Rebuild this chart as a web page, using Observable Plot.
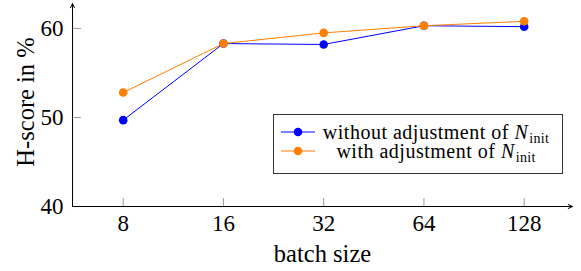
<!DOCTYPE html>
<html>
<head>
<meta charset="utf-8">
<script src="https://cdn.jsdelivr.net/npm/d3@7"></script>
<script src="https://cdn.jsdelivr.net/npm/@observablehq/plot@0.6"></script>
<style>
  html, body { margin: 0; padding: 0; background: #fff; }
  #wrap { position: relative; width: 581px; height: 271px; font-family: "Liberation Serif", "Times New Roman", serif; }
  #legend {
    position: absolute; left: 273px; top: 114px; width: 290px; height: 60px;
    border: 1px solid #333; background: #fff; box-sizing: border-box;
    font-size: 20px; color: #000;
  }
  .row { position: absolute; left: 0; right: 0; height: 18px; }
  .sample { position: absolute; left: 7px; top: 0; width: 34px; height: 18px; }
  .txt { position: absolute; left: 40px; right: 4px; top: 0; text-align: center; white-space: nowrap; line-height: 18px; letter-spacing: 0.5px; }
  .txt i { font-style: italic; }
  .txt sub { font-size: 14px; vertical-align: -4px; line-height: 0; letter-spacing: 0.3px; margin-left: 1px; }
</style>
</head>
<body>
<div id="wrap"></div>
<script>
const batchSizes = [8, 16, 32, 64, 128];
const withoutAdj = [49.7, 58.3, 58.2, 60.3, 60.2];
const withAdj = [52.8, 58.3, 59.5, 60.3, 60.8];
const yTicks = [40, 50, 60];
const seriesNames = ["without adjustment of", "with adjustment of"];
const colors = ["#0000ff", "#ff7f00"];

const xDomain = [5.634, 178.8];
const yDomain = [40, 62.8];

const rows = [];
batchSizes.forEach((b, i) => {
  rows.push({series: seriesNames[0], x: b, y: withoutAdj[i]});
  rows.push({series: seriesNames[1], x: b, y: withAdj[i]});
});
const s0 = rows.filter(d => d.series === seriesNames[0]);
const s1 = rows.filter(d => d.series === seriesNames[1]);

const tickShape = {draw(ctx, l) { ctx.moveTo(0, 0); ctx.lineTo(0, -l); }};

const chart = Plot.plot({
  width: 581,
  height: 271,
  marginLeft: 72,
  marginRight: 9,
  marginTop: 3,
  marginBottom: 65,
  style: {fontFamily: "'Liberation Serif', 'Times New Roman', serif", fontSize: "22px", background: "#fff", color: "#000"},
  x: {type: "log", base: 2, domain: xDomain},
  y: {domain: yDomain},
  marks: [
    Plot.vector(batchSizes, {x: d => d, y: yDomain[0], length: 8, rotate: 0, anchor: "start", shape: tickShape, stroke: "#999", strokeWidth: 1}),
    Plot.vector(yTicks.filter(t => t > yDomain[0]), {x: xDomain[0], y: d => d, length: 8, rotate: 90, anchor: "start", shape: tickShape, stroke: "#999", strokeWidth: 1}),
    Plot.axisX({ticks: batchSizes, tickFormat: d => String(d), tickSize: 0, tickPadding: 8, label: null, fontSize: 23}),
    Plot.axisY({ticks: yTicks, tickSize: 0, tickPadding: 9, label: null, fontSize: 23}),
    Plot.text(["batch size"], {frameAnchor: "bottom", dy: 48, fontSize: 24.5, lineAnchor: "middle", textAnchor: "middle"}),
    Plot.text(["H-score in %"], {frameAnchor: "left", dx: -46, dy: -3, rotate: -90, fontSize: 24.5, lineAnchor: "middle", textAnchor: "middle"}),
    Plot.arrow([0], {x1: xDomain[0], y1: yDomain[0], x2: xDomain[1], y2: yDomain[0], stroke: "#000", strokeWidth: 1, headLength: 7, headAngle: 50}),
    Plot.arrow([0], {x1: xDomain[0], y1: yDomain[0], x2: xDomain[0], y2: yDomain[1], stroke: "#000", strokeWidth: 1, headLength: 7, headAngle: 50}),
    Plot.line(s0, {x: "x", y: "y", stroke: colors[0], strokeWidth: 1}),
    Plot.dot(s0, {x: "x", y: "y", r: 4.3, fill: colors[0]}),
    Plot.line(s1, {x: "x", y: "y", stroke: colors[1], strokeWidth: 1}),
    Plot.dot(s1, {x: "x", y: "y", r: 4.3, fill: colors[1]})
  ]
});

const wrap = document.getElementById("wrap");
wrap.appendChild(chart);

const legend = document.createElement("div");
legend.id = "legend";
const tops = [8.3, 26.7];
seriesNames.forEach((name, i) => {
  const row = document.createElement("div");
  row.className = "row";
  row.style.top = tops[i] + "px";
  row.innerHTML =
    `<svg class="sample" width="34" height="18"><line x1="0" y1="9" x2="34" y2="9" stroke="${colors[i]}" stroke-width="1"/><circle cx="17" cy="9" r="4.3" fill="${colors[i]}"/></svg>` +
    `<div class="txt">${name} <i>N</i><sub>init</sub></div>`;
  legend.appendChild(row);
});
wrap.appendChild(legend);
</script>
</body>
</html>
